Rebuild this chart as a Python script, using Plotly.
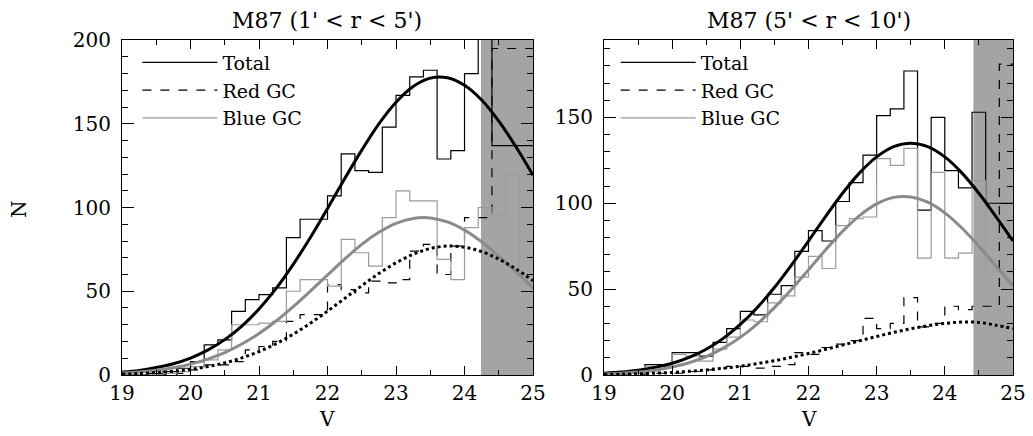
import plotly.graph_objects as go

# magnitude bins (left edge of each 0.2 mag bin) and the closing edge
bin_left = [19.0, 19.2, 19.4, 19.6, 19.8, 20.0, 20.2, 20.4, 20.6, 20.8,
            21.0, 21.2, 21.4, 21.6, 21.8, 22.0, 22.2, 22.4, 22.6, 22.8,
            23.0, 23.2, 23.4, 23.6, 23.8, 24.0, 24.2, 24.4, 24.6, 24.8]
bin_end = 25.0

# M87, 1' < r < 5'
total_in = [0, 0, 1, 2, 4, 8, 18, 21, 38, 45,
            48, 52, 82, 93, 93, 107, 132, 122, 121, 148,
            167, 178, 182, 129, 134, 180, 205, 137, 137, 137]
blue_in = [0, 0, 0, 1, 2, 5, 9, 15, 30, 30,
           31, 32, 50, 57, 57, 53, 81, 73, 65, 94,
           110, 104, 104, 69, 57, 88, 100, 95, 120, 60]
red_in = [0, 0, 0, 0, 1, 3, 6, 6, 8, 15,
          17, 20, 32, 36, 36, 54, 51, 49, 56, 55,
          57, 74, 78, 60, 77, 94, 94, 195, 195, 195]

# M87, 5' < r < 10'
total_out = [0, 0, 1, 6, 6, 13, 13, 11, 19, 27,
             37, 35, 47, 52, 72, 84, 78, 101, 112, 128,
             151, 155, 177, 96, 150, 119, 109, 153, 100, 100]
blue_out = [0, 0, 1, 5, 5, 12, 11, 8, 15, 22,
            32, 31, 42, 46, 57, 69, 62, 87, 91, 92,
            126, 122, 132, 68, 118, 68, 71, 113, 60, 60]
red_out = [0, 0, 0, 1, 1, 1, 2, 3, 4, 5,
           5, 4, 5, 6, 13, 12, 16, 18, 20, 33,
           27, 30, 45, 28, 30, 40, 38, 40, 40, 181]

# Gaussian fit curves, every 0.25 mag
fit_v = [19.0, 19.25, 19.5, 19.75, 20.0, 20.25, 20.5, 20.75, 21.0, 21.25,
         21.5, 21.75, 22.0, 22.25, 22.5, 22.75, 23.0, 23.25, 23.5, 23.75,
         24.0, 24.25, 24.5, 24.75, 25.0]
fit_total_in = [1.7, 2.7, 4.4, 6.7, 10.1, 14.8, 21.1, 29.2, 39.4, 51.7,
                66.1, 82.1, 99.4, 117.2, 134.3, 150.0, 162.9, 172.3, 177.3, 177.5,
                173.0, 164.2, 151.6, 136.3, 119.3]
fit_blue_in = [1.1, 1.7, 2.8, 4.3, 6.5, 9.5, 13.4, 18.5, 24.8, 32.2,
               40.8, 50.1, 59.7, 69.2, 78.0, 85.2, 90.6, 93.5, 93.8, 91.4,
               86.5, 79.5, 71.0, 61.7, 52.0]
fit_red_in = [0.5, 0.9, 1.4, 2.2, 3.3, 5.0, 7.2, 10.2, 14.0, 18.7,
              24.4, 30.9, 38.1, 45.7, 53.3, 60.6, 67.0, 72.1, 75.5, 77.0,
              76.3, 73.7, 69.2, 63.3, 56.3]
fit_total_out = [1.0, 1.7, 2.7, 4.4, 6.8, 10.3, 15.0, 21.3, 29.4, 39.3,
                 50.9, 64.0, 78.0, 92.2, 105.8, 117.7, 127.0, 133.0, 135.0, 133.0,
                 127.0, 117.7, 105.8, 92.2, 78.0]
fit_blue_out = [0.6, 1.0, 1.7, 2.8, 4.6, 7.1, 10.7, 15.6, 21.9, 29.8,
                39.2, 49.8, 61.2, 72.8, 83.6, 92.8, 99.6, 103.4, 103.7, 100.6,
                94.4, 85.6, 75.0, 63.5, 52.0]
fit_red_out = [0.3, 0.5, 0.7, 1.0, 1.5, 2.1, 2.9, 3.9, 5.1, 6.6,
               8.3, 10.3, 12.5, 14.9, 17.4, 19.9, 22.4, 24.8, 26.9, 28.7,
               30.0, 30.8, 30.6, 29.0, 27.0]

# magnitude limit where the samples become incomplete (grey band)
limit_in = 24.24
limit_out = 24.42

titles = ["M87 (1' < r < 5')", "M87 (5' < r < 10')"]
x_ticks = [19, 20, 21, 22, 23, 24, 25]

FONT = "DejaVu Serif"
GREY_FIT = "#8a8a8a"
GREY_HIST = "#9a9a9a"

edges = bin_left + [bin_end]


def steps(vals):
    return vals + [vals[-1]]


fig = go.Figure()

panels = [
    ("x", "y", "legend", total_in, red_in, blue_in,
     fit_total_in, fit_red_in, fit_blue_in),
    ("x2", "y2", "legend2", total_out, red_out, blue_out,
     fit_total_out, fit_red_out, fit_blue_out),
]
for xa, ya, lg, tot, red, blue, ft, fr, fb in panels:
    fig.add_trace(go.Scatter(x=edges, y=steps(tot), mode="lines", line_shape="hv",
                             line=dict(color="black", width=1.2), name="Total",
                             xaxis=xa, yaxis=ya, legend=lg))
    fig.add_trace(go.Scatter(x=edges, y=steps(red), mode="lines", line_shape="hv",
                             line=dict(color="black", width=1.2, dash="dash"), name="Red GC",
                             xaxis=xa, yaxis=ya, legend=lg))
    fig.add_trace(go.Scatter(x=edges, y=steps(blue), mode="lines", line_shape="hv",
                             line=dict(color=GREY_HIST, width=1.2), name="Blue GC",
                             xaxis=xa, yaxis=ya, legend=lg))
    fig.add_trace(go.Scatter(x=fit_v, y=ft, mode="lines", line_shape="spline",
                             line=dict(color="black", width=3), showlegend=False,
                             xaxis=xa, yaxis=ya))
    fig.add_trace(go.Scatter(x=fit_v, y=fb, mode="lines", line_shape="spline",
                             line=dict(color=GREY_FIT, width=3), showlegend=False,
                             xaxis=xa, yaxis=ya))
    fig.add_trace(go.Scatter(x=fit_v, y=fr, mode="lines", line_shape="spline",
                             line=dict(color="black", width=3, dash="dot"), showlegend=False,
                             xaxis=xa, yaxis=ya))

for xref, lim in (("x", limit_in), ("x2", limit_out)):
    yref = "y domain" if xref == "x" else "y2 domain"
    fig.add_shape(type="rect", xref=xref, yref=yref, x0=lim, x1=bin_end, y0=0, y1=1,
                  fillcolor="#a4a4a4", line_width=0, layer="below")

axis_common = dict(showline=True, linecolor="black", linewidth=1.2, mirror="ticks",
                   ticks="inside", tickcolor="black", showgrid=False, zeroline=False,
                   automargin=False,
                   tickfont=dict(family=FONT, size=20, color="black"))
xax = dict(axis_common, range=[19, 25], tickvals=x_ticks, ticklen=9,
           minor=dict(dtick=0.5, ticklen=5, ticks="inside", tickcolor="black"))
yax = dict(axis_common, ticklen=12, dtick=50, ticklabelstandoff=6,
           minor=dict(dtick=10, ticklen=6, ticks="inside", tickcolor="black"))

legend_common = dict(xanchor="left", yanchor="top", bgcolor="rgba(0,0,0,0)",
                     font=dict(family=FONT, size=19, color="black"),
                     itemwidth=75, tracegroupgap=0)

fig.update_layout(
    width=1033, height=436, margin=dict(l=0, r=0, t=0, b=0, autoexpand=False),
    paper_bgcolor="white", plot_bgcolor="white",
    xaxis=dict(xax, domain=[0.1181, 0.516], anchor="y"),
    yaxis=dict(yax, domain=[0.140, 0.908], range=[0, 200], anchor="x"),
    xaxis2=dict(xax, domain=[0.5847, 0.9806], anchor="y2"),
    yaxis2=dict(yax, domain=[0.140, 0.908], range=[0, 195], anchor="x2"),
    legend=dict(legend_common, x=0.133, y=0.9),
    legend2=dict(legend_common, x=0.596, y=0.9),
    showlegend=True,
)

ann = [
    dict(text=titles[0], x=0.317, y=0.952, xref="paper", yref="paper",
         xanchor="center", yanchor="middle", showarrow=False,
         font=dict(family=FONT, size=22, color="black")),
    dict(text=titles[1], x=0.783, y=0.952, xref="paper", yref="paper",
         xanchor="center", yanchor="middle", showarrow=False,
         font=dict(family=FONT, size=22, color="black")),
    dict(text="V", x=0.317, y=0.04, xref="paper", yref="paper",
         xanchor="center", yanchor="middle", showarrow=False,
         font=dict(family=FONT, size=20, color="black")),
    dict(text="V", x=0.783, y=0.04, xref="paper", yref="paper",
         xanchor="center", yanchor="middle", showarrow=False,
         font=dict(family=FONT, size=20, color="black")),
    dict(text="N", x=0.019, y=0.52, xref="paper", yref="paper", textangle=-90,
         xanchor="center", yanchor="middle", showarrow=False,
         font=dict(family=FONT, size=20, color="black")),
]
fig.update_layout(annotations=ann)

# the page body has a default 8px margin; remove it so the figure fills the window
fig.write_html("out.html", config={"displayModeBar": False},
               post_script="document.body.style.margin='0';")
